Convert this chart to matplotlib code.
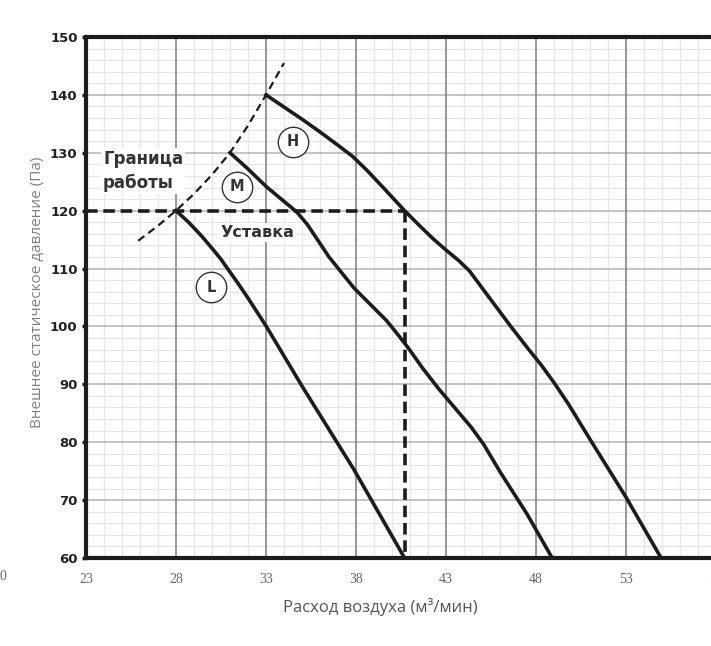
import matplotlib
matplotlib.use("Agg")
import matplotlib.pyplot as plt
from matplotlib.ticker import MultipleLocator
import numpy as np

# ---- data ----
x_ticks = [23, 28, 33, 38, 43, 48, 53, 58]
y_ticks = [60, 70, 80, 90, 100, 110, 120, 130, 140, 150]

h_x = [33.0, 34.0, 35.0, 36.0, 37.0, 37.8, 38.6, 39.6, 40.7, 41.5, 42.3, 43.0, 43.7, 44.3,
       45.4, 46.6, 47.6, 48.3, 49.0, 49.8, 51.0, 53.0, 54.95]
h_y = [140.0, 137.9, 135.8, 133.6, 131.3, 129.4, 127.0, 123.7, 120.0, 117.5, 115.1, 113.2,
       111.4, 109.6, 105.0, 100.0, 96.0, 93.3, 90.3, 86.6, 80.5, 70.5, 60.0]

m_x = [31.0, 32.0, 33.0, 34.0, 34.7, 35.3, 35.9, 36.5, 37.2, 37.9, 38.8, 39.7, 40.3, 40.9,
       41.7, 42.6, 43.5, 44.4, 45.1, 46.0, 47.5, 48.9]
m_y = [130.0, 127.2, 124.2, 121.6, 119.8, 117.6, 114.8, 112.0, 109.3, 106.6, 103.8, 101.0,
       98.7, 96.3, 92.8, 89.2, 85.9, 82.6, 79.6, 74.9, 67.6, 60.0]

l_x = [28.0, 28.7, 29.4, 30.0, 30.5, 31.0, 31.5, 32.0, 32.5, 33.0, 35.0, 37.9, 40.7]
l_y = [120.0, 118.0, 115.7, 113.5, 111.6, 109.4, 107.2, 104.9, 102.5, 100.1, 89.7, 75.2, 60.0]

bound_x = [25.9, 27.0, 28.0, 29.0, 30.0, 31.0, 32.0, 33.0, 34.0]
bound_y = [114.8, 117.4, 120.0, 122.9, 126.2, 130.0, 134.7, 140.0, 145.5]

set_flow = 40.7
set_press = 120.0

circle_labels = ["H", "M", "L"]
circle_x = [34.5, 31.4, 29.95]
circle_y = [131.9, 124.1, 106.8]

W, H = 711, 646
fig = plt.figure(figsize=(W / 100, H / 100), dpi=100)
ax_left, ax_right = 86, 716
ax_top, ax_bot = 37, 558
ax = fig.add_axes([ax_left / W, 1 - ax_bot / H, (ax_right - ax_left) / W, (ax_bot - ax_top) / H])
ax.set_xlim(23, 58)
ax.set_ylim(60, 150)

# grid
ax.xaxis.set_minor_locator(MultipleLocator(1))
ax.yaxis.set_minor_locator(MultipleLocator(2))
ax.set_xticks(x_ticks)
ax.set_yticks(y_ticks)
ax.set_axisbelow(True)
ax.grid(which="minor", color="#e6e6e6", lw=0.9)
ax.hlines(y_ticks, 23, 58, color="#b4b4b4", lw=1.1, zorder=1.9)
ax.vlines(x_ticks, 60, 150, color="#7c7c7c", lw=1.1, zorder=2)

for s in ["left", "bottom", "top"]:
    ax.spines[s].set_linewidth(3.0)
    ax.spines[s].set_color("#1c1c1c")
    ax.spines[s].set_zorder(8)
ax.spines["right"].set_visible(False)

ax.tick_params(axis="x", which="both", length=0, pad=11, labelsize=10, labelcolor="#666666")
for lab in ax.get_xticklabels():
    lab.set_family("Liberation Serif")
ax.tick_params(axis="y", which="major", length=3, width=2.5, color="#1c1c1c", pad=3,
               labelsize=9.5, labelcolor="#222222")
ax.tick_params(axis="y", which="minor", length=0)
for lab in ax.get_yticklabels():
    lab.set_fontweight("bold")
    lab.set_family("DejaVu Sans")

# setpoint lines
ax.plot([23, set_flow], [set_press, set_press], color="#1c1c1c", lw=2.6,
        dashes=(3.2, 1.6), zorder=4)
ax.plot([set_flow, set_flow], [set_press, 60], color="#1c1c1c", lw=2.6,
        dashes=(3.2, 1.6), zorder=4)

# boundary
ax.plot(bound_x, bound_y, color="#1c1c1c", lw=1.6, dashes=(3.5, 2.2), zorder=4)

# curves
for xs, ys in [(h_x, h_y), (m_x, m_y), (l_x, l_y)]:
    ax.plot(xs, ys, color="#1c1c1c", lw=2.6, solid_joinstyle="round", zorder=5)

# circle labels
ax.scatter(circle_x, circle_y, s=480, facecolor="white", edgecolor="#333333", lw=1.0, zorder=6)
for t, cx, cy in zip(circle_labels, circle_x, circle_y):
    ax.text(cx, cy, t, ha="center", va="center", fontsize=10.5, fontweight="bold",
            color="#333333", zorder=7)

# annotations
ax.text(23.95, 126.9, "Граница\nработы", ha="left", va="center", fontsize=12,
        fontweight="bold", color="#333333", linespacing=1.4, zorder=6,
        bbox=dict(facecolor="white", edgecolor="none", pad=1.5))
ax.text(32.5, 116.3, "Уставка", ha="center", va="center", fontsize=11.5,
        fontweight="bold", color="#333333", zorder=6,
        bbox=dict(facecolor="white", edgecolor="none", pad=1.5))

# axis labels
fig.text(38 / W, 1 - 292 / H, "Внешнее статическое давление (Па)", rotation=90,
         ha="center", va="center", fontsize=11, color="#808080", family="Open Sans")
fig.text(380 / W, 1 - 607 / H, "Расход воздуха (м³/мин)", ha="center", va="center",
         fontsize=12, color="#555555", family="Open Sans")
fig.text(7 / W, 1 - 577 / H, "20", ha="right", va="center", fontsize=10,
         color="#666666", family="Liberation Serif")

fig.savefig("out.png", dpi=100)
